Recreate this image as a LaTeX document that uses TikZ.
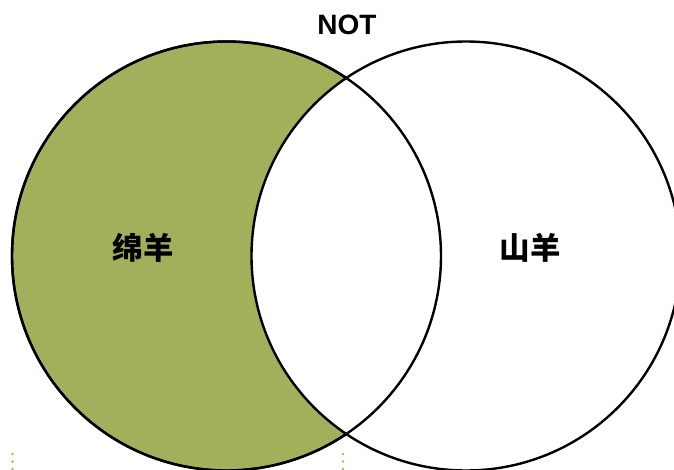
\documentclass[tikz,border=0pt]{standalone}
\usepackage{fontspec}
\setmainfont{Liberation Sans}
\newfontfamily\cjk{Noto Sans CJK SC}
\definecolor{olivefill}{HTML}{A3AF5A}
\definecolor{dotcol}{HTML}{A9B56A}
\begin{document}
\begin{tikzpicture}[x=1pt,y=-1pt,
  setcircle/.style={circle, draw=black, line width=2.4pt, minimum size=429pt, inner sep=0pt},
  lbl/.style={font=\cjk\bfseries\fontsize{30.5}{30.5}\selectfont, text=black},
  dotmark/.style={fill=dotcol, draw=none}]
\useasboundingbox (0,0) rectangle (674,470);
\clip (0,0) rectangle (674,470);
\fill[white] (0,0) rectangle (674,470);
\node[setcircle, fill=olivefill] (A) at (226.5,256) {};
\node[setcircle, fill=white] (B) at (466,256) {};
\node[setcircle] (A2) at (226.5,256) {};
\node[font=\bfseries\fontsize{28}{28}\selectfont] (T) at (347,24.5) {NOT};
\node[lbl] (LA) at (143,248) {绵羊};
\node[lbl] (LB) at (530,248) {山羊};
\foreach \y in {454,461.5,469} {
  \fill[dotmark] (12.5,\y) circle (1.3);
  \fill[dotmark] (343,\y) circle (1.3);
}
\end{tikzpicture}
\end{document}
